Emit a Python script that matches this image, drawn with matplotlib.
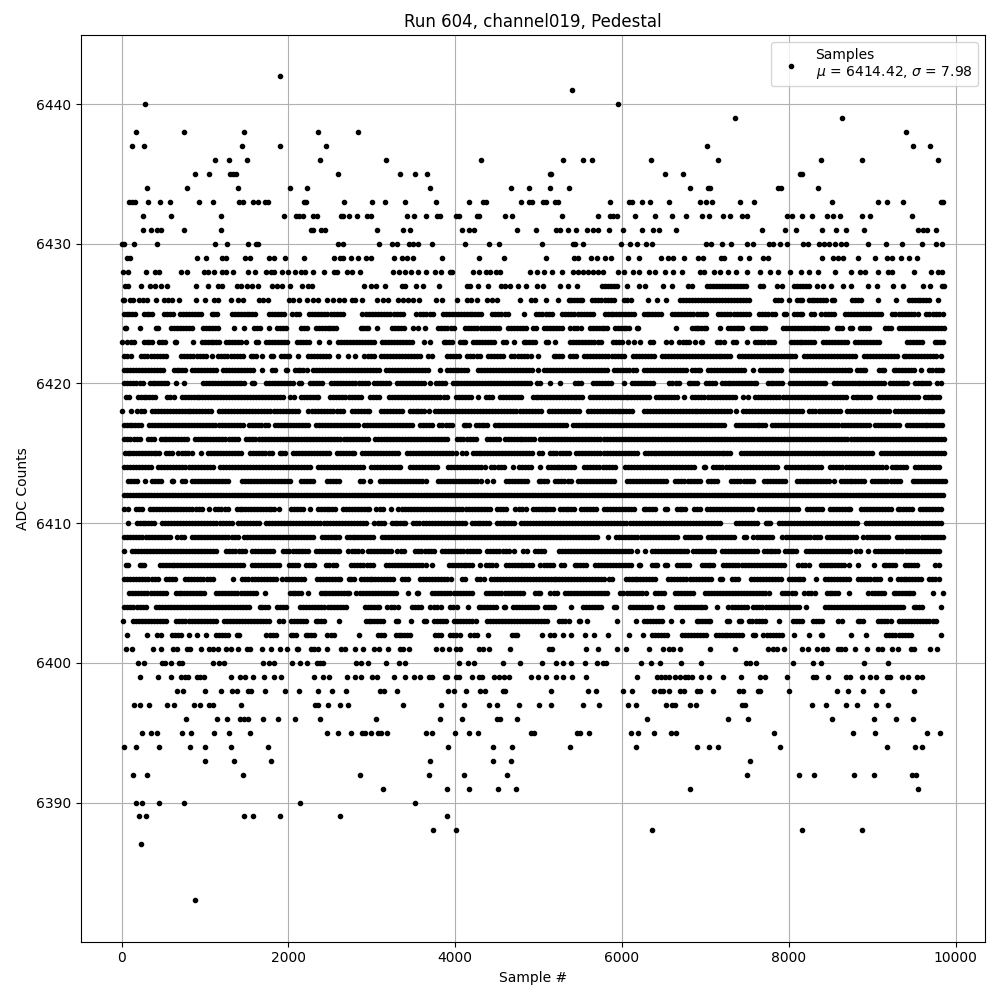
import matplotlib
matplotlib.use("Agg")
import matplotlib.pyplot as plt

# Values. An int is one dot read individually. A tuple (a, b)
# is a run of merged dots whose outer edges were read from the picture; the dots
# inside a run cannot be resolved, so it is drawn at a fixed spacing (an approximation).
TITLE = "Run 604, channel019, Pedestal"
XLABEL = "Sample #"
YLABEL = "ADC Counts"
LEGEND = "Samples\n$\\mu$ = 6414.42, $\\sigma$ = 7.98"

row_6442 = [1904]
row_6441 = [5400]
row_6440 = [284, 5952]
row_6439 = [7356, 8640]
row_6438 = [176, 752, 1472, 2360, 2840, 9408]
row_6437 = [128, 272, 1448, 1904, 2456, 7020, 9492, 9696]
row_6436 = [1124, 1292, 1508, 2384, 3176, 4304, 5292, 5532, 5640, 6348, 7152, 8388, 8880, 9792]
row_6435 = [884, 1052, 1304, 1340, 1376, 2600, 3344, 3524, 3656, 5136, 5148, 6516, 6732, 8136, 8164]
row_6434 = [308, 788, 1400, 2020, 2228, 3692, 4664, 4880, 5136, 5364, 6816, 7032, 7056, 7872, 7908, 8352]
row_6433 = [92, 128, 164, 320, 464, 584, 932, 1100, 1412, 1460, 1580, 1640, 1724, 1760, 2192, 2216, 2672, 3008, 3164, 3404, 3764, 4160, 4328, 4364, 4784, 4880, 4916, 5048, 5084, 5192, 5232, 5856, 6084, 6120, 6240, 6336, 6564, 6936, 7008, 7080, 7416, 7584, 8520, 9072, 9180, 9372, 9828, 9850]
row_6432 = [260, 596, 1196, 1952, 2096, 2132, 2180, 2300, 2340, 2636, 2660, 2732, 2828, 2948, 2996, 3428, 3512, 3644, 3780, 3820, 4004, 4044, 4260, 4284, 4592, 4676, 5280, 5712, 5856, 5892, 5940, 6156, 6396, 6600, 6768, 6960, 7044, 7212, 7296, 7440, 7500, 7980, 8040, 8160, 8280, 8460, 8532, 8616, 8880, 8976, 9480]
row_6431 = [260, 356, 428, 476, 752, 1196, 2276, 2300, 2396, 2436, 3068, 3380, 3464, 4076, 4160, 4220, 4736, 4964, 5212, 5252, 5352, 5448, 5580, 5652, 5712, 5844, 6012, 6240, 6372, 6444, 6648, 7680, 7956, 8088, 8400, 8568, 8688, 8900, 9552, 9612, 9652, 9768]
row_6430 = [0, 28, 152, 428, 1124, 1268, 1520, 1616, 1640, 2600, 2660, 3092, 3248, 3308, 3452, 3500, 3560, 3716, 4112, 4400, 4520, 5040, 5412, 5436, 5532, 5988, 6096, 6180, 6288, 6360, 7008, 7068, 7200, 7308, 7500, 7572, 7764, 7812, 7896, 7980, 8172, 8232, 8364, 8424, 8484, 8556, 8628, 8688, 8952, 9168, 9360, 9600, 9768, 9840]
row_6429 = [68, 100, 908, 1016, 1208, 1256, 1484, 1544, 1772, 1832, 1964, 2192, 2552, 2624, 2660, 2756, 2840, 2936, 2996, 3272, 3368, 3428, 3500, 3836, 4280, 4584, 5084, 5424, 5472, 5628, 5700, 5796, 5868, 6072, 6204, 6468, 6552, 6612, 6744, 6912, 6972, 7188, 7224, 7416, 7524, 7692, 7752, 8400, 8532, 8592, 8652, 8828, 9036, 9180, 9240, 9348, 9444, 9540]
row_6428 = [20, 80, 296, 404, 452, 716, 788, 992, 1040, 1112, 1208, 1256, 1340, 1520, 1604, 1736, 1796, 1832, 1928, 2000, 2084, 2156, 2204, 2300, 2432, 2552, 2588, 2708, 2768, 2864, 3260, 3332, 3404, 3476, 3560, 3644, 3752, 3824, 3932, 3956, 4208, 4280, 4364, 4412, 4484, 4532, 4892, 4976, 5060, 5160, 5284, 5412, 5472, 5532, 5592, 5652, 5712, 5772, 5952, 6024, 6132, 6204, 6324, 6396, 6516, 6612, 6720, 6936, 6984, 7104, 7176, 7272, 7372, 7500, 7652, 7772, 7872, 8016, 8148, 8244, 8352, 8556, 8748, 8856, 8912, 9072, 9192, 9240, 9504, 9708, 9792, 9840]
row_6427 = [40, 80, 236, 344, 404, 476, 548, 896, 1040, 1160, 1208, 1388, 1436, 1508, 1568, 1640, 1808, 1868, 1928, 2024, 2168, 2240, 2288, 2912, 2996, 3056, 3160, 3368, 3404, 3536, 3608, 3804, 4136, 4172, 4272, 4392, 4544, 4592, 4652, 4748, 4844, 4976, 5048, 5252, 5352, 5460, (5732, 5972), 6060, 6204, 6276, 6492, 6600, 6792, 6840, (6992, 7512), 7652, 7692, 7860, 7920, (8032, 8272), 8340, 8412, 8512, 8652, 8748, 8952, 9060, 9252, 9372, 9612, 9692, 9832, 9860]
row_6426 = [12, 28, 100, 140, 212, 260, 308, 416, 512, 560, 608, 692, 896, 1004, 1112, 1160, 1316, 1400, 1460, 1652, 1700, 1760, 2012, 2060, 2132, 2228, 2300, 2360, 2460, 2540, 2612, 2672, 2768, 2804, 2888, 3068, 3140, 3200, 3320, 3380, 3440, 3500, 3572, 3764, 3836, 4016, 4136, 4184, 4256, 4380, 4440, 4500, 4780, 4904, 4952, 5084, 5232, (5332, 5552), (5612, 5932), (5992, 6132), 6312, 6420, 6528, (6672, 7552), (7812, 7932), 8004, (8072, 8192), (8212, 8472), (8492, 8572), (8732, 8892), 9072, 9280, (9412, 9712), 9792]
row_6425 = [(0, 188), (240, 388), (480, 640), (668, 980), (1052, 1172), (1300, 1628), (1740, 1980), (2020, 2160), (2220, 2680), (2860, 3400), (3508, 3760), (3828, 4340), (4412, 4660), 4820, (4940, 5192), (5252, 5684), (5764, 6172), (6232, 6492), (6572, 7032), (7124, 7552), (7612, 7860), (7912, 7992), (8032, 8192), (8244, 8332), (8364, 8572), (8644, 9132), (9212, 9572), (9620, 9872)]
row_6424 = [(12, 80), 220, (380, 460), (560, 868), (948, 1188), 1352, 1468, (1560, 1692), 1772, (1840, 2000), (2128, 2252), (2308, 2600), (2840, 2988), 3068, (3220, 3412), (3472, 3580), 3632, (3760, 4012), (4092, 4552), (4604, 4872), (4900, 4992), (5032, 5312), (5352, 5532), (5592, 5852), (5892, 6112), (6152, 6220), 6644, (6812, 6932), (6888, 7040), 7176, (7248, 7468), (7528, 7748), (7908, 8488), (8548, 8668), (8708, 8788), (8828, 8988), (9120, 9248), (9296, 9888)]
row_6423 = [0, (40, 180), (240, 388), (420, 552), (612, 684), 852, (932, 1200), (1228, 1460), 1492, (1588, 1660), (1700, 2012), (2072, 2280), 2372, 2492, (2572, 3052), (3100, 3508), 3620, 3700, (3832, 3992), (4032, 4144), (4180, 4492), (4540, 4632), 4700, (4792, 4980), (5060, 5140), 5192, (5344, 5772), (5860, 6032), 6072, 6140, 6220, (6312, 6404), (6504, 6612), (6660, 6832), 6872, (6920, 6988), (7108, 7248), (7308, 7400), 7496, (7568, 7848), (8000, 8328), (8388, 8728), (8768, 9108), (9388, 9628), (9720, 9880)]
row_6422 = [(0, 140), (208, 560), (680, 1040), 1080, (1132, 1480), (1520, 1640), 1688, (1760, 1840), (1880, 2040), (2092, 2140), (2212, 2520), 2600, 2720, 2800, (2880, 3060), (3080, 3604), (3644, 3748), (3872, 4072), (4112, 4324), (4364, 4604), (4644, 4932), 4992, (5152, 5312), (5352, 5472), (5512, 6052), (6100, 6412), (6452, 7328), (7376, 8108), (8160, 8828), (8876, 9320), (9348, 9788), 9828]
row_6421 = [(0, 520), (600, 788), (820, 1160), (1188, 1600), 1680, (1772, 1868), (1940, 2012), (2052, 2200), 2220, (2268, 3120), (3140, 3700), 3820, (3872, 4172), (4240, 4952), 4992, (5040, 5844), (5872, 6192), (6232, 6792), (6812, 6968), (7000, 7488), 7568, (7628, 7940), (8000, 8768), (8788, 8948), (9056, 9168), (9228, 9528), 9588, (9656, 9868)]
row_6420 = [(0, 280), (308, 572), (628, 684), 748, (952, 1500), (1532, 1620), (1700, 2080), (2100, 2180), (2228, 2428), (2480, 2980), (3000, 3240), (3280, 3652), 3700, (3740, 3900), (3940, 4924), (4952, 5044), 5140, 5256, (5412, 5540), (5620, 5892), (6004, 6052), (6092, 6404), (6532, 6712), (6772, 6928), (6976, 7148), (7168, 7640), (7720, 7948), (7988, 8468), (8516, 9168), (9188, 9448), (9488, 9708), (9748, 9856)]
row_6419 = [(20, 120), (168, 428), (520, 652), (692, 1960), (1988, 2092), (2128, 2388), (2468, 2900), (2948, 3120), (3180, 3924), (3980, 4212), (4244, 4292), (4340, 4472), (4512, 4812), (4900, 5552), (5592, 6352), (6384, 6692), 6740, (6812, 7388), (7428, 7536), (7568, 8720), (8740, 9000), (9048, 9576), (9608, 9828)]
row_6418 = [8, 108, (160, 300), (340, 1100), (1140, 2140), (2212, 2680), (2740, 3000), (3080, 3392), (3432, 3652), 3684, (3732, 5052), (5092, 5512), (5564, 6152), (6232, 7328), 7368, (7428, 8188), (8216, 8648), (8668, 9228), (9248, 9868)]
row_6417 = [(0, 260), (300, 1480), (1500, 1780), (1812, 2260), (2300, 2860), (2880, 3512), (3552, 3752), (3780, 3992), (4072, 4192), (4220, 4412), (4444, 5352), (5380, 7256), (7336, 7748), (7768, 8988), (9008, 9348), (9388, 9868)]
row_6416 = [(0, 252), (288, 420), (440, 812), (852, 1420), (1468, 2980), (3012, 3932), (3992, 4280), (4356, 4552), (4572, 4972), (4992, 9888)]
row_6415 = [(8, 480), (500, 628), (652, 868), 948, (1012, 1460), (1508, 1828), (1868, 1988), (2028, 2520), (2560, 2820), (2860, 3340), (3392, 4032), (4052, 4152), (4180, 4952), (4972, 5072), (5112, 5392), (5420, 6212), (6244, 7328), (7400, 9028), (9080, 9888)]
row_6414 = [(0, 380), (412, 1120), (1148, 2292), (2332, 2920), (2960, 3372), (3432, 3804), (3884, 4380), (4404, 4612), 4692, (4740, 4932), 5012, (5084, 5452), (5520, 5940), (6004, 6888), (6960, 7028), (7068, 7888), (7940, 8416), (8468, 9188), (9208, 9428), (9480, 9828)]
row_6413 = [(52, 212), 280, (340, 500), (580, 640), (700, 788), (820, 1308), (1412, 2052), (2120, 2320), (2440, 2640), (2828, 2920), 2980, (3068, 3672), (3764, 4332), 4380, 4452, (4580, 4892), (4972, 5132), (5172, 5412), (5444, 5932), (6032, 6552), (6612, 6960), (7008, 7168), (7280, 7600), (7680, 7988), (8068, 8508), 8548, (8600, 8928), (8968, 9360), (9456, 9896)]
row_6412 = [(0, 9880)]
row_6411 = [(0, 100), (140, 268), (308, 988), (1020, 1068), (1092, 1300), (1352, 1860), 1892, (2008, 2200), 2260, (2328, 2588), (2628, 3000), (3028, 3160), 3228, (3292, 4444), (4472, 4632), (4692, 4872), (4904, 5204), (5232, 5452), (5484, 5712), (5760, 6172), (6232, 6420), (6492, 6572), (6632, 6780), (6832, 6960), (6988, 7588), (7620, 8140), (8188, 8428), (8468, 8768), (8836, 9248), (9276, 9508), (9548, 9856)]
row_6410 = [80, (152, 420), (452, 1348), (1372, 1680), (1700, 2960), (3000, 3180), (3212, 3432), (3472, 4140), (4172, 4432), (4472, 4732), (4764, 7200), (7336, 7648), (7696, 7808), (7856, 8848), (8896, 9848)]
row_6409 = [(0, 612), (640, 780), (812, 1420), (1440, 2320), (2372, 2640), (2672, 3040), (3100, 5732), 5832, (5900, 6692), (6724, 6960), (7000, 7368), (7440, 7520), (7548, 7828), (7896, 8400), (8428, 8836), (8868, 9220), (9268, 9880)]
row_6408 = [(0, 52), (100, 1160), (1220, 1508), (1540, 1848), (1908, 2268), (2308, 2640), (2692, 2908), (2932, 3260), (3280, 3412), (3492, 3772), (3812, 4312), (4352, 4672), 4704, (4780, 4884), (4932, 5092), (5212, 6132), 6180, 6280, (6332, 6812), (6828, 7128), (7168, 7648), (7676, 7896), (7928, 8116), (8180, 8768), (8780, 8880), 8948, (9008, 9828)]
row_6407 = [(28, 108), (188, 300), (428, 1480), (1532, 1920), (1980, 2140), (2188, 2340), (2420, 2600), (2720, 3040), (3140, 3672), 3720, (3900, 4232), 4292, (4340, 4512), (4580, 4952), (4992, 5204), (5244, 5332), (5404, 5592), (5644, 6132), (6180, 6244), (6332, 6452), (6492, 6572), (6632, 6832), (6936, 7120), (7188, 7968), (8088, 8268), (8360, 8688), 8720, 8828, 9016, (9108, 9296), (9360, 9568), (9728, 9828)]
row_6406 = [(0, 460), (500, 668), (732, 1120), 1340, (1420, 1880), (1900, 2220), (2320, 2652), (2700, 2812), (2840, 3280), (3332, 3460), (3552, 3972), (4052, 4144), (4232, 4372), (4404, 5812), (5820, 5912), (6020, 6420), (6524, 7096), (7148, 7228), (7296, 7420), (7520, 7936), (7976, 8200), 8328, (8408, 8748), (8800, 9120), 9208, (9280, 9608), (9648, 9828)]
row_6405 = [(60, 560), (620, 1020), (1100, 1640), 1720, (1988, 2180), 2240, (2360, 2760), (2788, 3320), 3432, (3512, 3580), (3692, 4232), (4340, 4844), (4932, 5044), (5112, 5252), (5292, 5852), (5952, 6312), (6372, 6532), (6604, 6884), (6968, 7748), 7768, (7888, 8100), (8160, 8340), (8428, 8616), 8720, (8928, 9168), (9228, 9520), 9728, 9848]
row_6404 = [(0, 320), (380, 1560), (1628, 1780), (1840, 2000), (2108, 2720), (2892, 3120), (3160, 3340), (3452, 3612), (3672, 3852), (3912, 4044), 4152, (4252, 4512), (4552, 4620), (4660, 5004), (5052, 5212), 5392, (5500, 5772), (5872, 5952), (6072, 6372), (6412, 6504), (6620, 7028), 7136, (7248, 7528), (7548, 8148), 8208, (8408, 9400), (9468, 9628), 9828]
row_6403 = [20, (108, 560), (628, 1160), (1200, 1800), (1860, 1960), (2008, 2240), (2300, 2452), 2612, (2900, 3160), (3260, 3340), 3472, (3592, 3672), (3712, 3912), (3952, 4272), (4352, 5132), (5212, 5392), (5452, 5524), 5580, 5940, 6164, (6232, 6512), 6592, 6724, (6868, 7088), (7228, 7308), (7376, 7456), (7496, 7748), 7888, (8028, 8188), (8268, 8428), (8560, 8668), (8800, 8920), (9040, 9248), (9296, 9788)]
row_6402 = [68, 308, (400, 500), (572, 740), 812, 900, 1008, (1100, 1300), (1360, 1440), (1708, 1880), (2000, 2120), (2180, 2332), (2440, 2580), 2852, (3052, 3180), (3260, 3484), (3732, 3852), (3904, 4084), (4152, 4292), 4392, (4652, 4772), 5044, (5112, 5212), 5292, 5392, 5560, 5664, 5836, 6084, 6252, (6332, 6572), (6692, 7040), (7096, 7468), (7548, 7628), (7668, 7948), 8068, 8248, (8360, 8428), 8748, 8928, (9136, 9496), 9828]
row_6401 = [52, 124, 372, 476, 612, 668, 788, 820, 956, 1052, 1100, 1160, 1256, 1316, 1400, 1508, 1540, 1684, 1796, 1900, 1988, (2080, 2148), (2240, 2380), 2460, 2628, 2684, 2804, 2892, 3028, 3084, 3200, 3344, 3380, 3452, 3764, 3836, 3920, 4004, 4060, 4280, 4332, 4400, 4652, 5120, 5164, 5568, 5712, 5940, 6052, 6324, 6492, 6564, 6612, 6696, 7056, 7356, 7752, 7812, 7860, 7944, 8160, 8232, 8340, 8412, 8460, 8592, 8632, 8672, 8796, 8940, 9072, 9112, 9240, 9312, 9460, 9500, 9696, 9772]
row_6400 = [200, 272, 480, 520, 596, 688, 720, 1100, 1172, 1232, 1700, 1772, 1832, 2048, 2144, 2228, (2320, 2440), 2816, 2876, 2960, 3176, 3332, 3404, 4040, 4148, 4220, 4568, 4772, 5040, 5208, 5292, 5388, 5556, 5700, 5772, 5812, 6228, 6348, 6456, 6708, 6948, 7492, 7532, 7604, 8052, 8292, 8388, 8904, 9192]
row_6399 = [220, 440, 596, 716, 764, 800, 908, 940, 992, 1316, 1424, 1484, 1580, 1712, 1832, 1916, 2312, 2420, 2488, 2708, 2804, 2876, 3008, 3068, 3272, 3404, 3512, 3580, 3680, 3720, 3872, 3900, 4004, 4040, 4196, 4280, 4316, 4460, 4520, 4580, 4640, 4904, 4988, 5084, 5208, 5292, 5396, 5568, 6180, 6420, 6472, 6512, 6564, 6632, 6692, 6752, 6792, 6844, 6948, 7044, 7212, 7428, 7660, 7712, 7980, 8292, 8324, 8472, 8688, 8740, 8880, 8976, 9048, 9180, 9212, 9360, 9432, 9540, 9600]
row_6398 = [668, 740, 1004, 1196, 1328, 1388, 1520, 1552, 1724, 1964, 2132, 2360, 2524, 2692, 3100, 3148, 3308, 3908, 3980, 4124, 4292, 4360, 4572, 4600, 5152, 5592, 5688, 6012, 6120, 6384, 6452, 6492, 6564, 6692, 6744, 6900, 6932, 7092, 7404, 7452, 7632, 7660, 8004, 8580, 8712, 8892, 9120, 9504]
row_6397 = [152, 224, 332, 548, 632, 872, 940, 1052, 1100, 1436, 2324, 2360, 2480, 2624, 2720, 3380, 3824, 4100, 4400, 4496, 4760, 5000, 5152, 5532, 5724, 6072, 6168, 6528, 6600, 6632, 6816, 6888, 7440, 7472, 8280, 8448, 8688, 8820, 9048, 9192]
row_6396 = [776, 1148, 1268, 1424, 1472, 1520, 1692, 1872, 2084, 2384, 3056, 3812, 4076, 4500, 4532, 4736, 6300, 7272, 7512, 8520, 9024, 9288, 9492]
row_6395 = [248, 356, 428, 728, 836, 1112, 1292, 1544, 2468, 2600, 2756, 2888, 2920, 2996, 3080, 3112, 3188, 3644, 3716, 3992, 4160, 4268, 4904, 4940, 5460, 5492, 5604, 6108, 6192, 6384, 6588, 6648, 7824, 8772, 9032, 9652, 9816]
row_6394 = [32, 176, 452, 824, 1004, 1316, 1760, 3908, 4448, 4676, 5376, 6168, 6900, 7044, 7152, 7896, 9180, 9516, 9600]
row_6393 = [1004, 1352, 1796, 3692, 4448, 4664, 7536]
row_6392 = [140, 308, 1460, 2864, 3680, 4100, 4616, 7500, 8124, 8304, 8784, 9024, 9480, 9528]
row_6391 = [3140, 3896, 4160, 4508, 4724, 6816, 9552]
row_6390 = [176, 248, 452, 752, 2144, 3524]
row_6389 = [212, 296, 1472, 1580, 1904, 2624, 3896]
row_6388 = [3728, 4004, 6360, 8160, 8880]
row_6387 = [236]
row_6383 = [884]

levels = [6442, 6441, 6440, 6439, 6438, 6437, 6436, 6435, 6434, 6433, 6432, 6431, 6430,
          6429, 6428, 6427, 6426, 6425, 6424, 6423, 6422, 6421, 6420, 6419, 6418, 6417,
          6416, 6415, 6414, 6413, 6412, 6411, 6410, 6409, 6408, 6407, 6406, 6405, 6404,
          6403, 6402, 6401, 6400, 6399, 6398, 6397, 6396, 6395, 6394, 6393, 6392, 6391,
          6390, 6389, 6388, 6387, 6383]
rows = [row_6442, row_6441, row_6440, row_6439, row_6438, row_6437, row_6436, row_6435,
        row_6434, row_6433, row_6432, row_6431, row_6430, row_6429, row_6428, row_6427,
        row_6426, row_6425, row_6424, row_6423, row_6422, row_6421, row_6420, row_6419,
        row_6418, row_6417, row_6416, row_6415, row_6414, row_6413, row_6412, row_6411,
        row_6410, row_6409, row_6408, row_6407, row_6406, row_6405, row_6404, row_6403,
        row_6402, row_6401, row_6400, row_6399, row_6398, row_6397, row_6396, row_6395,
        row_6394, row_6393, row_6392, row_6391, row_6390, row_6389, row_6388, row_6387,
        row_6383]

INSET = 28   # run edges were read at the dot's outer edge
STEP = 36

xs, ys = [], []
for level, row in zip(levels, rows):
    for item in row:
        if isinstance(item, tuple):
            a, b = item[0] + INSET, item[1] - INSET
            if b <= a:
                vals = [(item[0] + item[1]) / 2]
            else:
                n = max(1, int(round((b - a) / STEP)))
                vals = [a + (b - a) * i / n for i in range(n + 1)]
        else:
            vals = [item]
        xs.extend(vals)
        ys.extend([level] * len(vals))

fig, ax = plt.subplots(figsize=(10, 10), dpi=100)
ax.scatter(xs, ys, color="black", s=9, label=LEGEND, zorder=3)
ax.set_title(TITLE)
ax.set_xlabel(XLABEL)
ax.set_ylabel(YLABEL)
ax.set_xlim(-493, 10353)
ax.set_ylim(6380.05, 6444.95)
ax.grid(True)
ax.legend(loc="upper right")
fig.subplots_adjust(left=0.0805, right=0.985, top=0.965, bottom=0.0585)
fig.savefig("out.png", dpi=100)
